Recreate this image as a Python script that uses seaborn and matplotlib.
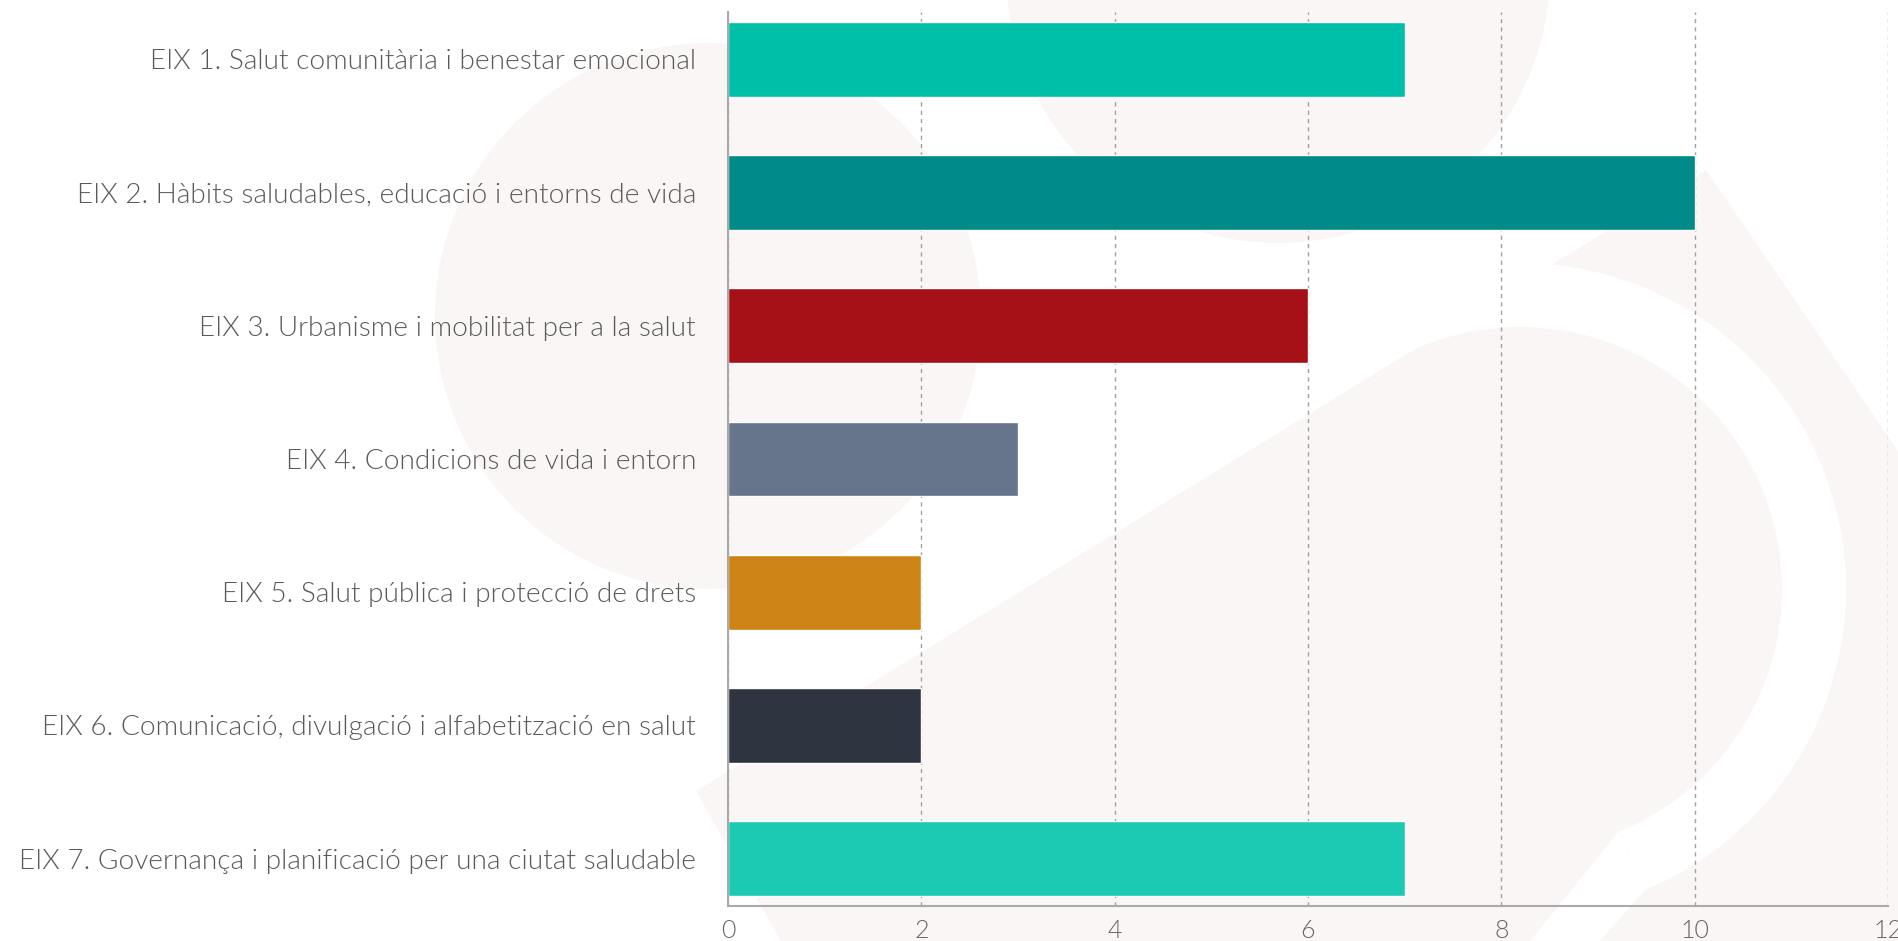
import matplotlib
matplotlib.use("Agg")
import matplotlib.pyplot as plt
import seaborn as sb
import pandas as pd
from matplotlib.patches import Circle, Polygon, Wedge

eixos = [
    "EIX 1. Salut comunitària i benestar emocional",
    "EIX 2. Hàbits saludables, educació i entorns de vida",
    "EIX 3. Urbanisme i mobilitat per a la salut",
    "EIX 4. Condicions de vida i entorn",
    "EIX 5. Salut pública i protecció de drets",
    "EIX 6. Comunicació, divulgació i alfabetització en salut",
    "EIX 7. Governança i planificació per una ciutat saludable",
]
valors = [7, 10, 6, 3, 2, 2, 7]
colors = ["#00BFA8", "#008B88", "#A51116", "#66748C", "#CD8316", "#2F3540", "#1CCAB3"]
x_ticks = [0, 2, 4, 6, 8, 10, 12]

sb.set_style("white")
plt.rcParams["font.family"] = ["Lato", "DejaVu Sans"]

fig = plt.figure(figsize=(18.99, 9.41), dpi=100)

# fons: logotip molt clar
bg = fig.add_axes([0, 0, 1, 1], zorder=0)
bg.set_xlim(0, 1899)
bg.set_ylim(941, 0)
bg.axis("off")
pal = "#FAF6F5"
bg.add_patch(Circle((708, 316), 273, color=pal, lw=0))
bg.add_patch(Circle((1278, -29), 272, color=pal, lw=0))
bg.add_patch(Polygon([(696, 791), (1706, 170), (2100, 747), (2100, 941), (781, 941)],
                     closed=True, color=pal, lw=0))
bg.add_patch(Wedge((1520, 589), 326, -121.6, 67.7, width=64, color="white", lw=0))
bg.add_patch(Polygon([(1619, 831), (1644, 891), (1600, 941), (1530, 941)],
                     closed=True, color="white", lw=0))

ax = fig.add_axes([728 / 1899, 35 / 941, 1160 / 1899, 894 / 941], zorder=1)
ax.set_facecolor("none")

t = pd.DataFrame({"eix": eixos, "valor": valors})
sb.barplot(data=t, x="valor", y="eix", hue="eix", palette=colors, legend=False,
           saturation=1, width=0.56, orient="h", ax=ax)

ax.set_xlim(0, 12)
ax.set_ylim(len(eixos) - 1 + 0.355, -0.355)
ax.set_xticks(x_ticks)
ax.set_xticklabels([str(v) for v in x_ticks])
ax.set_xlabel("")
ax.set_ylabel("")

ax.grid(axis="x", color="#A0A0A0", linestyle=(0, (3, 3)), linewidth=1)
ax.grid(axis="y", visible=False)
ax.set_axisbelow(True)

for s in ["top", "right"]:
    ax.spines[s].set_visible(False)
for s in ["left", "bottom"]:
    ax.spines[s].set_color("#AAAAAA")
    ax.spines[s].set_linewidth(1.5)

ax.tick_params(axis="y", length=0, pad=23, labelsize=20.2, labelcolor="#5A5A5A")
ax.tick_params(axis="x", length=0, pad=9, labelsize=18, labelcolor="#666666")
for lbl in ax.get_yticklabels() + ax.get_xticklabels():
    lbl.set_fontweight(300)

fig.savefig("out.png", dpi=100)
